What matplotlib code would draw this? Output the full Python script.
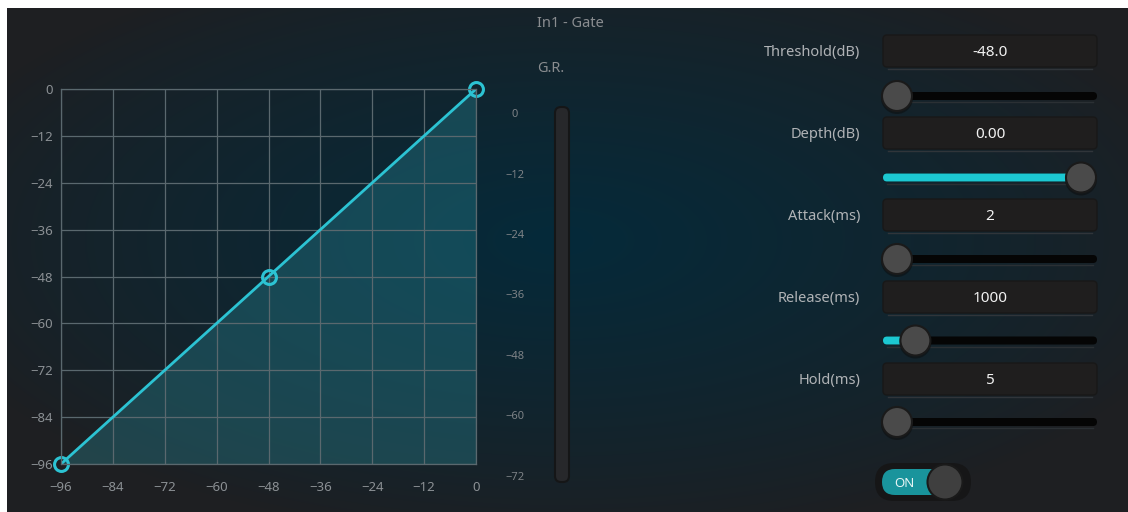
import numpy as np
import matplotlib.pyplot as plt
from matplotlib.patches import FancyBboxPatch, Circle

plt.rcParams['font.family'] = ['Noto Sans', 'DejaVu Sans']

# transfer curve of the gate (input dB -> output dB)
curve_in = [-96, -48, 0]
curve_out = [-96, -48, 0]
axis_ticks = list(range(-96, 1, 12))
meter_ticks = list(range(-72, 1, 12))

# parameter panel
param_names = ['Threshold(dB)', 'Depth(dB)', 'Attack(ms)', 'Release(ms)', 'Hold(ms)']
param_values = ['-48.0', '0.00', '2', '1000', '5']
slider_frac = [0.0, 1.0, 0.0, 0.10, 0.0]
slider_filled = [False, True, False, True, False]

W, H = 1128, 512
CYAN = '#2cc3d3'

fig = plt.figure(figsize=(W / 100, H / 100), dpi=100, facecolor='white')

# full-figure axes in pixel units for background and widgets
ui = fig.add_axes([0, 0, 1, 1])
ui.axis('off')

# background: dark gray with a blue-teal glow
yy, xx = np.mgrid[0:H - 8, 0:W - 7]
xx = xx + 7
yy = yy + 8
d = np.sqrt(((xx - 560) / 660.0) ** 2 + ((yy - 240) / 300.0) ** 2)
w = np.clip(1 - d, 0, 1) ** 0.8
base = np.array([30, 31, 34]) / 255.0
glow = np.array([5, 42, 58]) / 255.0
img = base[None, None, :] * (1 - w[..., None]) + glow[None, None, :] * w[..., None]
ui.imshow(img, extent=(7, W, H, 8), aspect='auto', zorder=0)
ui.set_xlim(0, W)
ui.set_ylim(H, 0)


def label(x, y, s, size=10.5, **kw):
    # place text so that its cap height is centred on y
    ui.text(x, y + size * 0.5, s, fontsize=size, va='baseline', **kw)


label(537, 22, 'In1 - Gate', color='#8a8d90', ha='left')
label(537, 67, 'G.R.', color='#8a8d90', ha='left')

# G.R. meter bar
ui.add_patch(FancyBboxPatch((555, 107), 14, 375, boxstyle='round,pad=0,rounding_size=6',
                            fc='#27282b', ec='#151617', lw=1.5, zorder=2))

# parameter rows
box_x0, box_x1 = 883, 1097
knob_l, knob_r = 897, 1081
for i, (name, val) in enumerate(zip(param_names, param_values)):
    by = 51 + i * 82
    sy = 96 + i * 81.5
    label(860, by, name, color='#b0b3b6', ha='right')
    ui.add_patch(FancyBboxPatch((box_x0, by - 16), box_x1 - box_x0, 32,
                                boxstyle='round,pad=0,rounding_size=4',
                                fc='#1f1e1e', ec='#181818', lw=1, zorder=2))
    ui.plot([box_x0 + 5, box_x1 - 5], [by + 18, by + 18], color='#30353a', lw=1, zorder=2)
    label(990, by, val, size=11, color='#f2f2f2', ha='center', zorder=3)

    # slider track
    ui.add_patch(FancyBboxPatch((box_x0, sy - 4), box_x1 - box_x0, 8,
                                boxstyle='round,pad=0,rounding_size=4',
                                fc='#050505', ec='none', zorder=2))
    ui.plot([box_x0 + 4, box_x1 - 4], [sy + 6, sy + 6], color='#2b3034', lw=1, zorder=2)
    kx = knob_l + slider_frac[i] * (knob_r - knob_l)
    if slider_filled[i]:
        ui.add_patch(FancyBboxPatch((box_x0, sy - 4), kx - box_x0, 8,
                                    boxstyle='round,pad=0,rounding_size=4',
                                    fc='#1cc8d2', ec='none', zorder=3))
    ui.add_patch(Circle((kx, sy + 2), 16, fc='#0c0c0c', ec='none', alpha=0.5, zorder=4))
    ui.add_patch(Circle((kx, sy), 15, fc='#4a4a4a', ec='#1a1a1a', lw=1.5, zorder=5))

# ON toggle
ui.add_patch(FancyBboxPatch((875, 463), 96, 38, boxstyle='round,pad=0,rounding_size=19',
                            fc='#161617', ec='none', zorder=2))
ui.add_patch(FancyBboxPatch((882, 469), 80, 26, boxstyle='round,pad=0,rounding_size=13',
                            fc='#19949c', ec='none', zorder=3))
ui.add_patch(Circle((945, 482), 17.5, fc='#3f3f3f', ec='#1a1a1a', lw=1.5, zorder=4))
label(904, 482, 'ON', size=9.5, color='#e6f4f4', fontweight='bold', ha='center', zorder=5)

# transfer curve axes
ax = fig.add_axes([61 / W, (H - 464) / H, 415 / W, 375 / H])
ax.set_facecolor('none')
ax.set_xlim(-96, 0)
ax.set_ylim(-96, 0)
ax.set_xticks(axis_ticks)
ax.set_yticks(axis_ticks)
ax.grid(True, color='#5a686e', lw=0.9)
for s in ax.spines.values():
    s.set_color('#5a686e')
    s.set_linewidth(0.9)
ax.tick_params(length=0, labelcolor='#8b9094', labelsize=9.5)
ax.tick_params(axis='y', pad=6)
ax.tick_params(axis='x', pad=12)
ax.fill_between(curve_in, curve_out, -96, color='#2a8c9a', alpha=0.34, lw=0)
ax.plot(curve_in, curve_out, color=CYAN, lw=2)
ax.plot(curve_in, curve_out, 'o', mfc='none', mec=CYAN, ms=10, mew=2.2, clip_on=False)

# G.R. meter scale
mx = fig.add_axes([555 / W, (H - 482) / H, 14 / W, 375 / H])
mx.set_facecolor('none')
mx.set_ylim(-73.2, 1.2)
mx.set_xticks([])
mx.set_yticks(meter_ticks)
for s in mx.spines.values():
    s.set_visible(False)
mx.tick_params(length=0, labelcolor='#7d8286', labelsize=8, pad=29)
for lab in mx.get_yticklabels():
    lab.set_horizontalalignment('center')

plt.savefig('out.png', dpi=100, facecolor=fig.get_facecolor())
